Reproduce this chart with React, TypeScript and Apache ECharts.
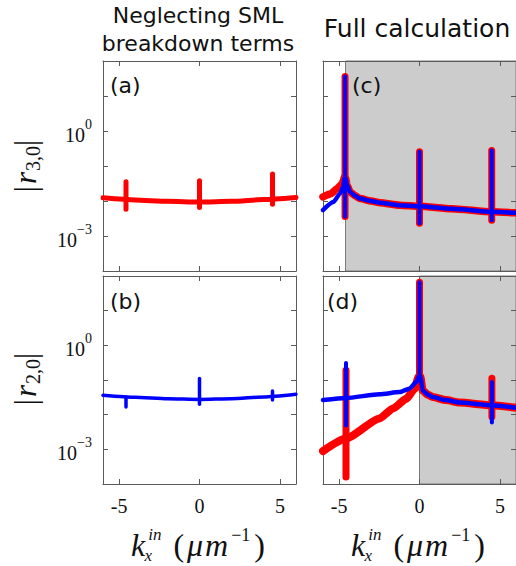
import React, { useEffect, useRef } from 'react';
import * as echarts from 'echarts';

// ---------- axes ----------
const X_MIN = -6;
const X_MAX = 6;
const xTickValues = [-5, 0, 5];
const Y_MIN = 1e-4;
const Y_MAX = 1e2;
const yLabelExponents = [0, -3];

// ---------- panel (a): |r_{3,0}| neglecting SML breakdown terms ----------
const kxA = [-6, -4, -2, 0, 2, 4, 6];
const r30A = [0.0123, 0.0107, 0.00977, 0.00933, 0.00977, 0.011, 0.0126];
const spikeXA = [-4.57, 0, 4.54];
const spikeTopA = [0.0355, 0.038, 0.059];
const spikeBotA = [0.0058, 0.0065, 0.0081];

// ---------- panel (b): |r_{2,0}| neglecting SML breakdown terms ----------
const kxB = [-6, -4, -2, 0, 2, 4, 6];
const r20B = [0.0363, 0.0316, 0.0288, 0.0275, 0.0288, 0.0324, 0.0389];
const spikeXB = [-4.57, 0, 4.54];
const spikeTopB = [0.032, 0.11, 0.048];
const spikeBotB = [0.0166, 0.02, 0.0263];

// ---------- panel (c): |r_{3,0}| full calculation ----------
const kxCRed = [-6, -5.5, -5.15, -4.9, -4.75, -4.66, -4.6, -4.5, -4.32, -4.0, -3.7, -3.0, -2.46, -1.22, 0, 2, 4.49, 6];
const r30CRed = [0.0132, 0.0162, 0.0219, 0.0282, 0.0355, 0.0501, 0.0447, 0.0282, 0.0182, 0.0141, 0.0117, 0.01, 0.0089, 0.0076, 0.0071, 0.006, 0.0049, 0.0046];
const kxCBlue = [-6, -5.36, -4.94, -4.75, -4.66, -4.6, -4.5, -4.32, -4.0, -3.7, -3.0, -2.46, -1.22, 0, 2, 4.49, 6];
const r30CBlue = [0.0055, 0.0093, 0.0162, 0.0251, 0.0447, 0.0447, 0.0282, 0.0182, 0.0141, 0.0117, 0.01, 0.0089, 0.0076, 0.0071, 0.006, 0.0049, 0.0046];
const spikeXC = [-4.63, 0, 4.49];
const spikeTopC = [36, 0.257, 0.275];
const spikeBotC = [0.0036, 0.0023, 0.0028];
const shadeStartC = -4.6;

// ---------- panel (d): |r_{2,0}| full calculation ----------
const kxDRed = [-6, -4.57, -2.48, -1.65, -0.82, -0.3, -0.05, 0.05, 0.2, 0.5, 0.82, 1.65, 2.48, 4.5, 6];
const r20DRed = [0.00089, 0.00204, 0.0078, 0.0151, 0.0288, 0.0562, 0.126, 0.126, 0.0501, 0.038, 0.0324, 0.0263, 0.0224, 0.0186, 0.0158];
const kxDBlue = [-6, -4.57, -2.48, -1.24, -0.62, -0.2, -0.05, 0.05, 0.2, 0.5, 0.82, 1.65, 2.48, 4.5, 6];
const r20DBlue = [0.0263, 0.0302, 0.0389, 0.0447, 0.0562, 0.0871, 0.126, 0.126, 0.0501, 0.038, 0.0324, 0.0263, 0.0224, 0.0186, 0.0158];
const spikeXDRed = [-4.57, 0, 4.5];
const spikeTopDRed = [0.19, 66, 0.112];
const spikeBotDRed = [0.000158, 0.126, 0.0087];
const spikeXDBlue = [-4.57, 0, 4.5];
const spikeTopDBlue = [0.309, 66, 0.087];
const spikeBotDBlue = [0.0049, 0.126, 0.0059];
const shadeStartD = 0;

const RED = '#ff0000';
const BLUE = '#0000ff';
const AXIS_COLOR = '#5a5a5a';
const SERIF = 'Liberation Serif';
const SANS = 'DejaVu Sans';

const grids = [
  { left: 103, top: 61, width: 193, height: 210 },
  { left: 103, top: 276, width: 193, height: 208 },
  { left: 323, top: 61, width: 193, height: 210 },
  { left: 323, top: 276, width: 193, height: 208 },
];

function makeXAxes(g: number, showLabels: boolean) {
  const base = {
    type: 'value',
    gridIndex: g,
    min: X_MIN,
    max: X_MAX,
    z: 4,
    splitLine: { show: false },
    axisLine: { show: true, onZero: false, lineStyle: { color: AXIS_COLOR, width: 1 } },
    axisTick: { show: true, inside: true, length: 5, customValues: xTickValues, lineStyle: { color: AXIS_COLOR, width: 1 } },
  };
  return [
    {
      ...base,
      position: 'bottom',
      axisLabel: {
        show: showLabels,
        customValues: xTickValues,
        margin: 12,
        fontFamily: SERIF,
        fontSize: 20,
        color: '#111',
        formatter: (v: number) => String(v),
      },
    },
    { ...base, position: 'top', axisLabel: { show: false } },
  ];
}

function makeYAxes(g: number) {
  const base = {
    type: 'log',
    logBase: 10,
    gridIndex: g,
    min: Y_MIN,
    max: Y_MAX,
    z: 4,
    splitLine: { show: false },
    minorTick: { show: false },
    axisLine: { show: true, onZero: false, lineStyle: { color: AXIS_COLOR, width: 1 } },
    axisTick: { show: true, inside: true, length: 5, lineStyle: { color: AXIS_COLOR, width: 1 } },
  };
  const showLabels = g < 2;
  return [
    {
      ...base,
      position: 'left',
      axisLabel: {
        show: showLabels,
        interval: 0,
        margin: 11,
        formatter: (v: number) => {
          const e = Math.round(Math.log10(v));
          if (yLabelExponents.indexOf(e) < 0) return '';
          const es = e < 0 ? '\u2212' + String(-e) : String(e);
          return '{b|10}{s|' + es + '}';
        },
        rich: {
          b: { fontFamily: SERIF, fontSize: 20, color: '#111', lineHeight: 28, verticalAlign: 'bottom' },
          s: { fontFamily: SERIF, fontSize: 14, color: '#111', verticalAlign: 'top' },
        },
      },
    },
    { ...base, position: 'right', axisLabel: { show: false } },
  ];
}

function curve(xs: number[], ys: number[], color: string, width: number, g: number, z: number) {
  return {
    type: 'line',
    xAxisIndex: g * 2,
    yAxisIndex: g * 2,
    data: xs.map((x, i) => [x, ys[i]]),
    symbol: 'none',
    smooth: 0.2,
    smoothMonotone: 'x',
    silent: true,
    z,
    lineStyle: { color, width, cap: 'round', join: 'round' },
  };
}

function spikes(xs: number[], tops: number[], bots: number[], color: string, width: number, g: number, z: number) {
  return xs.map((x, i) => ({
    type: 'line',
    xAxisIndex: g * 2,
    yAxisIndex: g * 2,
    data: [[x, tops[i]], [x, bots[i]]],
    symbol: 'none',
    silent: true,
    z,
    lineStyle: { color, width, cap: 'round', join: 'round' },
  }));
}

function shade(g: number, start: number) {
  return {
    type: 'line',
    xAxisIndex: g * 2,
    yAxisIndex: g * 2,
    data: [],
    z: 1,
    silent: true,
    markArea: {
      silent: true,
      itemStyle: { color: '#cccccc', borderColor: '#7a7a7a', borderWidth: 1 },
      data: [[{ xAxis: start }, { xAxis: X_MAX }]],
    },
  };
}

const MATH_FILL = '#111';
function mathX(x: number, y: number) {
  const main = { fontFamily: SERIF, fontSize: 32, lineHeight: 38, verticalAlign: 'middle', fill: MATH_FILL };
  return {
    type: 'text',
    x,
    y,
    z: 10,
    style: {
      text: '{k|k}{sb|x}{sp|in}{lp|(}{u|\u03bc}{u|m}{sq|\u22121}{rp|)}',
      align: 'center',
      verticalAlign: 'middle',
      rich: {
        k: { ...main, fontStyle: 'italic', padding: [0, 3, 0, 0] },
        sb: { fontFamily: SERIF, fontStyle: 'italic', fontSize: 17, lineHeight: 8, verticalAlign: 'bottom', width: 0, fill: MATH_FILL },
        sp: { fontFamily: SERIF, fontStyle: 'italic', fontSize: 17, lineHeight: 26, verticalAlign: 'top', fill: MATH_FILL, padding: [0, 12, 0, 0] },
        sq: { fontFamily: SERIF, fontSize: 18, lineHeight: 24, verticalAlign: 'top', fill: MATH_FILL, padding: [0, 4, 0, 1] },
        lp: { ...main, padding: [0, 3, 0, 0] },
        u: { ...main, fontStyle: 'italic', padding: [0, 2, 0, 0] },
        rp: { ...main },
      },
    },
  };
}

function mathY(x: number, y: number, sub: string) {
  return {
    type: 'text',
    x,
    y,
    z: 10,
    rotation: Math.PI / 2,
    style: {
      text: '{p||}{r|r}{sb|' + sub + '}{p||}',
      align: 'center',
      verticalAlign: 'middle',
      rich: {
        p: { fontFamily: SERIF, fontSize: 31, lineHeight: 36, verticalAlign: 'middle', fill: MATH_FILL },
        r: { fontFamily: SERIF, fontStyle: 'italic', fontSize: 31, lineHeight: 36, verticalAlign: 'middle', fill: MATH_FILL, padding: [0, 1, 0, 2] },
        sb: { fontFamily: SERIF, fontSize: 20, lineHeight: 16, verticalAlign: 'bottom', fill: MATH_FILL },
      },
    },
  };
}

function label(text: string, x: number, y: number, size: number, align = 'left') {
  return {
    type: 'text',
    x,
    y,
    z: 10,
    style: { text, fontFamily: SANS, fontSize: size, fill: '#111', align, verticalAlign: 'middle', lineHeight: 28 },
  };
}

export default function App() {
  const ref = useRef<HTMLDivElement>(null);
  useEffect(() => {
    if (!ref.current) return;
    const chart = echarts.init(ref.current, undefined, { renderer: 'svg' });
    const series: any[] = [
      shade(2, shadeStartC),
      shade(3, shadeStartD),
      curve(kxA, r30A, RED, 5, 0, 5),
      ...spikes(spikeXA, spikeTopA, spikeBotA, RED, 5, 0, 5),
      curve(kxB, r20B, BLUE, 3.5, 1, 5),
      ...spikes(spikeXB, spikeTopB, spikeBotB, BLUE, 3.5, 1, 5),
      curve(kxCRed, r30CRed, RED, 7.5, 2, 5),
      ...spikes(spikeXC, spikeTopC, spikeBotC, RED, 7, 2, 5),
      curve(kxCBlue, r30CBlue, BLUE, 4.5, 2, 6),
      ...spikes(spikeXC, spikeTopC, spikeBotC, BLUE, 4, 2, 6),
      curve(kxDRed, r20DRed, RED, 8, 3, 5),
      ...spikes(spikeXDRed, spikeTopDRed, spikeBotDRed, RED, 7, 3, 5),
      curve(kxDBlue, r20DBlue, BLUE, 4.5, 3, 6),
      ...spikes(spikeXDBlue, spikeTopDBlue, spikeBotDBlue, BLUE, 4, 3, 6),
    ];
    const option: any = {
      animation: false,
      backgroundColor: '#ffffff',
      grid: grids.map((g) => ({ ...g, containLabel: false })),
      xAxis: [
        ...makeXAxes(0, false),
        ...makeXAxes(1, true),
        ...makeXAxes(2, false),
        ...makeXAxes(3, true),
      ],
      yAxis: [...makeYAxes(0), ...makeYAxes(1), ...makeYAxes(2), ...makeYAxes(3)],
      series,
      graphic: [
        label('Neglecting SML\nbreakdown terms', 198, 29, 22, 'center'),
        label('Full calculation', 417, 28, 25, 'center'),
        label('(a)', 110, 85, 22),
        label('(b)', 110, 301, 22),
        label('(c)', 352, 85, 22),
        label('(d)', 327, 301, 22),
        mathY(25, 166, '3,0'),
        mathY(25, 379, '2,0'),
        mathX(198, 545),
        mathX(418, 545),
      ],
    };
    chart.setOption(option);
    return () => chart.dispose();
  }, []);
  return <div ref={ref} style={{ position: 'absolute', left: 0, top: 0, width: 516, height: 566 }} />;
}
